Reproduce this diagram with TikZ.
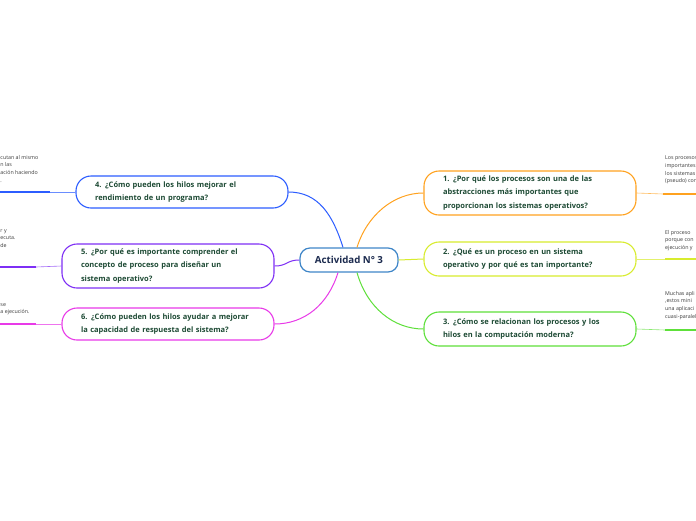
\documentclass[tikz,border=0pt]{standalone}
\usepackage{fontspec}
\setmainfont{Open Sans}
\usetikzlibrary{calc}
\definecolor{cOrange}{HTML}{FFA21F}
\definecolor{cYellow}{HTML}{D8EC2E}
\definecolor{cGreen}{HTML}{5EE03A}
\definecolor{cBlue}{HTML}{2C5DFF}
\definecolor{cPurple}{HTML}{7E2FF5}
\definecolor{cMagenta}{HTML}{E83AE8}
\definecolor{cCentral}{HTML}{3F86C8}
\definecolor{qtext}{HTML}{1D4A34}
\definecolor{ctext}{HTML}{1B2A4E}
\definecolor{leaftext}{HTML}{3A3A3A}
\tikzset{
  qbox/.style={draw=#1, line width=1.1pt, rounded corners=15pt, fill=white,
    text width=174pt, align=left, inner xsep=19pt, inner ysep=4pt,
    font=\fontsize{7.5}{13.3}\selectfont\bfseries, text=qtext},
  central/.style={draw=cCentral, line width=1.2pt, rounded corners=10pt, fill=white,
    minimum width=98pt, minimum height=24pt, inner sep=2pt,
    font=\fontsize{9.7}{11}\selectfont\bfseries, text=ctext},
  conn/.style={draw=#1, line width=1pt},
  leafthin/.style={draw=#1, line width=0.6pt, opacity=0.7},
  leafthick/.style={draw=#1, line width=1.8pt},
  leaf/.style={inner sep=0pt, align=left, text=leaftext,
    font=\fontsize{5.3}{7.6}\selectfont},
}
\begin{document}
\begin{tikzpicture}[x=1pt,y=-1pt]
\useasboundingbox (0,0) rectangle (696,520);
\clip (0,0) rectangle (696,520);
\fill[white] (0,0) rectangle (696,520);

% central node
\node[central] (c) at (349,260) {Actividad N° 3};

% question nodes
\node[qbox=cOrange, minimum height=44pt] (q1) at (530,193)
  {1. ¿Por qué los procesos son una de las\\ abstracciones más importantes que\\ proporcionan los sistemas operativos?};
\node[qbox=cYellow, minimum height=34pt] (q2) at (530,259)
  {2. ¿Qué es un proceso en un sistema\\ operativo y por qué es tan importante?};
\node[qbox=cGreen, minimum height=34pt] (q3) at (530,329)
  {3. ¿Cómo se relacionan los procesos y los\\ hilos en la computación moderna?};
\node[qbox=cBlue, minimum height=32pt] (q4) at (182,192)
  {4. ¿Cómo pueden los hilos mejorar el\\ rendimiento de un programa?};
\node[qbox=cPurple, minimum height=44pt] (q5) at (168,266)
  {5. ¿Por qué es importante comprender el\\ concepto de proceso para diseñar un\\ sistema operativo?};
\node[qbox=cMagenta, minimum height=32pt] (q6) at (168,324)
  {6. ¿Cómo pueden los hilos ayudar a mejorar\\ la capacidad de respuesta del sistema?};

% connectors from central node
\draw[conn=cOrange] ($(c.north)+(8,0)$) .. controls +(10,-32) and +(-30,0) .. (q1.west);
\draw[conn=cYellow] (c.east) -- (q2.west);
\draw[conn=cGreen] ($(c.south)+(8,0)$) .. controls +(10,35) and +(-30,0) .. (q3.west);
\draw[conn=cBlue] ($(c.north)+(-6,0)$) .. controls +(-10,-32) and +(30,0) .. (q4.east);
\draw[conn=cPurple] (c.west) .. controls +(-13,0) and +(13,0) .. (q5.east);
\draw[conn=cMagenta] ($(c.south)+(-11,0)$) .. controls +(-10,32) and +(30,0) .. (q6.east);

% leaf lines
\coordinate (m1) at (663,194); \coordinate (e1) at (697,194);
\coordinate (m2) at (665,259); \coordinate (e2) at (697,259);
\coordinate (m3) at (665,330); \coordinate (e3) at (697,330);
\coordinate (m4) at (50,192);  \coordinate (e4) at (-1,192);
\coordinate (m5) at (36,267);  \coordinate (e5) at (-1,267);
\coordinate (m6) at (36,324);  \coordinate (e6) at (-1,324);
\draw[leafthin=cOrange] (q1.east) -- (m1);
\draw[leafthick=cOrange] (m1) -- (e1);
\draw[leafthin=cYellow] (q2.east) -- (m2);
\draw[leafthick=cYellow] (m2) -- (e2);
\draw[leafthin=cGreen] (q3.east) -- (m3);
\draw[leafthick=cGreen] (m3) -- (e3);
\draw[leafthin=cBlue] (q4.west) -- (m4);
\draw[leafthick=cBlue] (m4) -- (e4);
\draw[leafthin=cPurple] (q5.west) -- (m5);
\draw[leafthick=cPurple] (m5) -- (e5);
\draw[leafthin=cMagenta] (q6.west) -- (m6);
\draw[leafthick=cMagenta] (m6) -- (e6);

% leaf texts (cut by the picture's edge, as in the reference)
\node[leaf, anchor=north west] (l1) at (665,156)
  {Los procesos\\ importantes\\ los sistemas\\ (pseudo) con};
\node[leaf, anchor=north west] (l2) at (665,230)
  {El proceso\\ porque con\\ ejecución y};
\node[leaf, anchor=north west] (l3) at (665,291)
  {Muchas apli\\ ,estos mini\\ una aplicaci\\ cuasi-paralel};
\node[leaf, anchor=north west] (l4) at (0.3,155)
  {cutan al mismo\\ n las\\ ación haciendo\\ .};
\node[leaf, anchor=north west] (l5) at (0.3,229)
  {r y\\ ecuta.\\ de};
\node[leaf, anchor=north west] (l6) at (0.3,303)
  {se\\ a ejecución.};
\end{tikzpicture}
\end{document}
